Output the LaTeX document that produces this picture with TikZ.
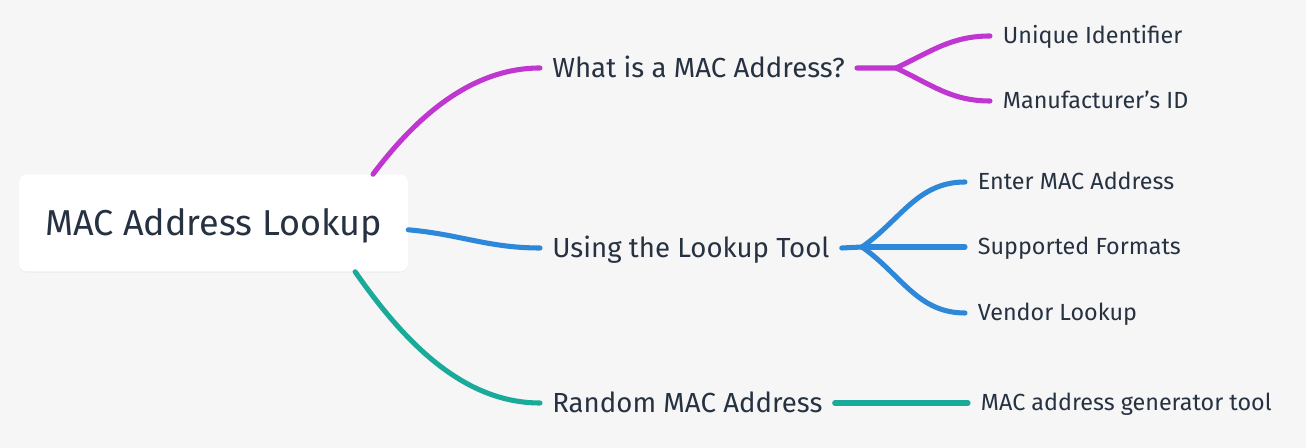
\documentclass[tikz,border=0pt]{standalone}
\usepackage{fontspec}
\setmainfont{Fira Sans}
\usetikzlibrary{shadows}
\definecolor{bgcol}{HTML}{F6F6F6}
\definecolor{inkcol}{HTML}{263242}
\definecolor{purplebr}{HTML}{BF36D1}
\definecolor{bluebr}{HTML}{2E88DA}
\definecolor{tealbr}{HTML}{1AAA9A}
\tikzset{
  rootbox/.style  = {fill=white, rounded corners=6pt, minimum width=291.75pt,
                     minimum height=72.75pt, inner sep=0pt, text=inkcol,
                     text height=18.6pt, text depth=0pt,
                     font=\fontsize{27}{31}\selectfont,
                     drop shadow={opacity=0.06, shadow xshift=0pt, shadow yshift=-1pt}},
  topic/.style    = {anchor=west, text=inkcol, inner xsep=9pt, inner ysep=0pt,
                     text height=14.3pt, text depth=0pt, font=\fontsize{20.7}{24}\selectfont},
  subtopic/.style = {anchor=west, text=inkcol, inner xsep=9.5pt, inner ysep=0pt,
                     text height=12pt, text depth=0pt, font=\fontsize{17.5}{21}\selectfont},
  branch/.style   = {line width=3.8pt, line cap=round},
}

\begin{document}
\begin{tikzpicture}[x=0.75pt, y=-0.75pt]
  \fill[bgcol] (0,0) rectangle (1306,448);
  \useasboundingbox (0,0) rectangle (1306,448);

  % central topic
  \node[rootbox] (root) at (213.5,223) {MAC Address Lookup};

  % main branches
  \node[topic] (what)   at (540,68)  {What is a MAC Address?};
  \node[topic] (using)  at (540,248) {Using the Lookup Tool};
  \node[topic] (random) at (540,403) {Random MAC Address};

  % leaves
  \node[subtopic] (uid)    at (990,36)  {Unique Identifier};
  \node[subtopic] (manuf)  at (990,101) {Manufacturer’s ID};
  \node[subtopic] (enter)  at (965,182) {Enter MAC Address};
  \node[subtopic] (formats) at (965,247) {Supported Formats};
  \node[subtopic] (vendor) at (965,313) {Vendor Lookup};
  \node[subtopic] (gen)    at (968,403) {MAC address generator tool};

  \coordinate (whatj)  at (896,68);
  \coordinate (usingj) at (862,247);

  % root to main branches
  \draw[branch, purplebr] (root.17) to[out=53, in=180, looseness=0.9] (what.west);
  \draw[branch, bluebr] (root.-2) to[out=-5, in=180] (using.west);
  \draw[branch, tealbr] (root.-19) to[out=-55, in=180, looseness=0.9] (random.west);

  % main branches to leaves
  \draw[branch, purplebr] (what.east) -- (whatj) to[out=25, in=180] (uid.west);
  \draw[branch, purplebr] (whatj) to[out=-25, in=180] (manuf.west);
  \draw[branch, bluebr] (using.east) -- (usingj) to[out=35, in=180] (enter.west);
  \draw[branch, bluebr] (usingj) -- (formats.west);
  \draw[branch, bluebr] (usingj) to[out=-35, in=180] (vendor.west);
  \draw[branch, tealbr] (random.east) -- (gen.west);
\end{tikzpicture}
\end{document}
